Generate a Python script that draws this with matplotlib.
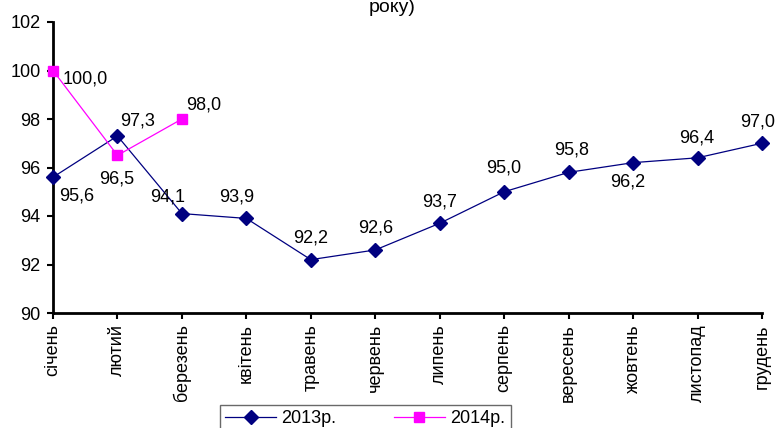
import matplotlib.pyplot as plt

plt.rcParams["font.family"] = ["Liberation Sans", "DejaVu Sans"]

months = ["січень", "лютий", "березень", "квітень", "травень", "червень",
          "липень", "серпень", "вересень", "жовтень", "листопад", "грудень"]
values_2013 = [95.6, 97.3, 94.1, 93.9, 92.2, 92.6, 93.7, 95.0, 95.8, 96.2, 96.4, 97.0]
values_2014 = [100.0, 96.5, 98.0]

# label offsets in pixels (dx, dy)
offs_2013 = [(24, -19), (20, 15), (-14, 17), (-10, 21), (0, 22), (0, 22),
             (0, 21), (0, 24), (3, 22), (-5, -19), (-1, 20), (-4, 21)]
offs_2014 = [(32, -8), (-1, -24), (22, 14)]

fig = plt.figure(figsize=(7.76, 4.28), dpi=100)
ax = fig.add_axes([53 / 776, 1 - 313 / 428, (762 - 53) / 776, (313 - 22) / 428])

x13 = range(len(values_2013))
x14 = range(len(values_2014))
ax.plot(x13, values_2013, color="#000080", lw=0.9, marker="D", ms=7,
        label="2013р.", clip_on=False, zorder=3)
ax.plot(x14, values_2014, color="#FF00FF", lw=0.9, marker="s", ms=7,
        label="2014р.", clip_on=False, zorder=4)

px = 72 / 100
for i, v in enumerate(values_2013):
    dx, dy = offs_2013[i]
    ax.annotate(f"{v:.1f}".replace(".", ","), (i, v), xytext=(dx * px, dy * px),
                textcoords="offset points", ha="center", va="center", fontsize=13)
for i, v in enumerate(values_2014):
    dx, dy = offs_2014[i]
    ax.annotate(f"{v:.1f}".replace(".", ","), (i, v), xytext=(dx * px, dy * px),
                textcoords="offset points", ha="center", va="center", fontsize=13)

ax.set_xlim(0, 11)
ax.set_ylim(90, 102)
ax.set_yticks(range(90, 103, 2))
ax.set_xticks(range(12))
ax.set_xticklabels(months, rotation=90, fontsize=13)
ax.tick_params(axis="y", labelsize=13, length=4, width=1.5, direction="out", pad=5)
ax.tick_params(axis="x", length=4, width=1.5, direction="out", pad=4)
for s in ["top", "right"]:
    ax.spines[s].set_visible(False)
for s in ["left", "bottom"]:
    ax.spines[s].set_linewidth(2)

fig.text(392 / 776, 1 - 8 / 428, "року)", ha="center", va="center", fontsize=14)

leg = fig.legend(loc="upper left", bbox_to_anchor=(220 / 776, 1 - 405 / 428), ncol=2,
                 fontsize=13, frameon=True, fancybox=False, handlelength=2.8,
                 handletextpad=0.3, columnspacing=3.2, borderpad=0.3,
                 borderaxespad=0)
leg.get_frame().set_edgecolor("#444444")
leg.get_frame().set_linewidth(1)

fig.savefig("out.png", dpi=100)
